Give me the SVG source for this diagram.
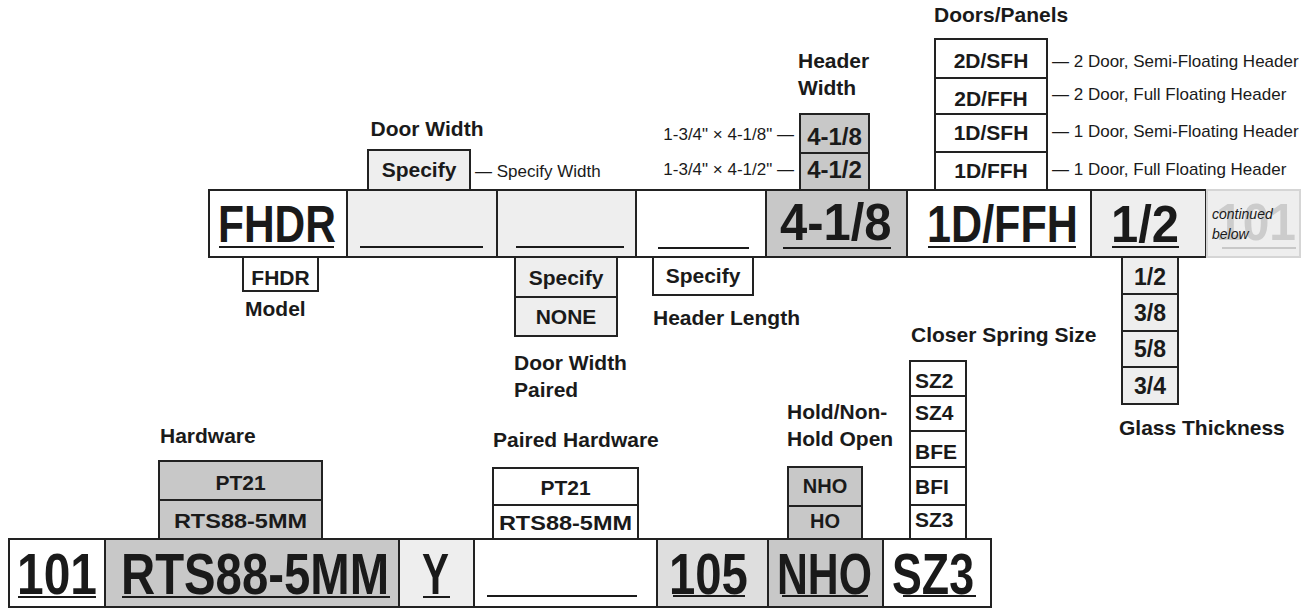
<svg xmlns="http://www.w3.org/2000/svg" width="1314" height="609" viewBox="0 0 1314 609">
<style>
text{font-family:"Liberation Sans",Arial,sans-serif;fill:#1a1a1a}
.lb{font-weight:bold;font-size:21px}
.bx{font-weight:bold;font-size:21px}
.c{text-anchor:middle}
.e{text-anchor:end}
.rg{font-size:17px}
.big{font-weight:bold;font-size:51px}
.bigb{font-weight:bold;font-size:57px}
.cell{stroke:#222;stroke-width:2}
.w{fill:#fff}
.l{fill:#eeeeee}
.m{fill:#dedede}
.d{fill:#c8c8c8}
.ul{stroke:#1a1a1a;stroke-width:2}
</style>
<rect width="1314" height="609" fill="#fff"/>
<g id="connectors"/>

<g id="door-width">
<text class="lb c" x="427" y="136">Door Width</text>
<rect class="cell l" x="368" y="150" width="102" height="40"/>
<text class="bx c" x="419" y="177">Specify</text>
<text class="rg" x="475" y="177">— Specify Width</text>
</g>
<g id="header-width">
<text class="lb" x="798" y="68">Header</text>
<text class="lb" x="798" y="95">Width</text>
<rect class="cell d" x="800" y="114" width="69" height="39"/>
<rect class="cell d" x="800" y="153" width="69" height="37"/>
<text class="bx c" x="834.5" y="145" style="font-size:24px">4-1/8</text>
<text class="bx c" x="834.5" y="178" style="font-size:24px">4-1/2</text>
<text class="rg e" x="794" y="140">1-3/4" ×  4-1/8" —</text>
<text class="rg e" x="794" y="175">1-3/4" × 4-1/2" —</text>
</g>
<g id="doors-panels">
<text class="lb" x="934" y="22">Doors/Panels</text>
<rect class="cell w" x="935" y="39" width="112" height="39"/>
<rect class="cell w" x="935" y="78" width="112" height="36"/>
<rect class="cell w" x="935" y="114" width="112" height="38"/>
<rect class="cell w" x="935" y="152" width="112" height="38"/>
<text class="bx c" x="991" y="68">2D/SFH</text>
<text class="bx c" x="991" y="106">2D/FFH</text>
<text class="bx c" x="991" y="140">1D/SFH</text>
<text class="bx c" x="991" y="178">1D/FFH</text>
<text class="rg" x="1052" y="67">— 2 Door, Semi-Floating Header</text>
<text class="rg" x="1052" y="100">— 2 Door, Full Floating Header</text>
<text class="rg" x="1052" y="137">— 1 Door, Semi-Floating Header</text>
<text class="rg" x="1052" y="175">— 1 Door, Full Floating Header</text>
</g>

<g id="model">
<rect class="cell w" x="243" y="257" width="75" height="34"/>
<text class="bx c" x="280.5" y="285">FHDR</text>
<text class="lb" x="245" y="316">Model</text>
</g>
<g id="door-width-paired">
<rect class="cell l" x="515" y="257" width="102" height="40"/>
<rect class="cell l" x="515" y="297" width="102" height="39"/>
<text class="bx c" x="566" y="285">Specify</text>
<text class="bx c" x="566" y="324">NONE</text>
<text class="lb" x="514" y="370">Door Width</text>
<text class="lb" x="514" y="397">Paired</text>
</g>
<g id="header-length">
<rect class="cell w" x="653" y="257" width="100" height="38"/>
<text class="bx c" x="703" y="283">Specify</text>
<text class="lb" x="653" y="325">Header Length</text>
</g>
<g id="glass-thickness">
<rect class="cell l" x="1122" y="257" width="56" height="37"/>
<rect class="cell l" x="1122" y="294" width="56" height="37"/>
<rect class="cell l" x="1122" y="331" width="56" height="36"/>
<rect class="cell l" x="1122" y="367" width="56" height="37"/>
<text class="bx c" x="1150" y="285" style="font-size:23px">1/2</text>
<text class="bx c" x="1150" y="321" style="font-size:23px">3/8</text>
<text class="bx c" x="1150" y="357" style="font-size:23px">5/8</text>
<text class="bx c" x="1150" y="394" style="font-size:23px">3/4</text>
<text class="lb" x="1119" y="435">Glass Thickness</text>
</g>

<g id="top-bar">
<rect class="cell w" x="209" y="190" width="138" height="67"/>
<rect class="cell l" x="347" y="190" width="150" height="67"/>
<rect class="cell l" x="497" y="190" width="139" height="67"/>
<rect class="cell w" x="636" y="190" width="130" height="67"/>
<rect class="cell d" x="766" y="190" width="141" height="67"/>
<rect class="cell w" x="907" y="190" width="184" height="67"/>
<rect class="cell l" x="1091" y="190" width="115" height="67"/>
<text class="big" transform="translate(218,242) scale(0.833,1)">FHDR</text>
<line class="ul" x1="219" y1="247" x2="334" y2="247"/>
<line class="ul" x1="360" y1="247" x2="483" y2="247"/>
<line class="ul" x1="516" y1="247" x2="624" y2="247"/>
<line class="ul" x1="658" y1="248" x2="749" y2="248"/>
<text class="big" transform="translate(780,240) scale(0.96,1)">4-1/8</text>
<line class="ul" x1="783" y1="248" x2="891" y2="248"/>
<text class="big" transform="translate(927,242) scale(0.846,1)">1D/FFH</text>
<line class="ul" x1="928" y1="247" x2="1076" y2="247"/>
<text class="big" transform="translate(1111,242) scale(0.96,1)">1/2</text>
<line class="ul" x1="1112" y1="247" x2="1179" y2="247"/>
</g>
<g id="continued">
<rect x="1207" y="190" width="93" height="67" fill="#eeeeee" stroke="#d5d5d5" stroke-width="2"/>
<text class="big" transform="translate(1216,240) scale(0.94,1)" style="fill:#cccccc">101</text>
<line x1="1222" y1="248" x2="1296" y2="248" stroke="#c8c8c8" stroke-width="2"/>
<text x="1212" y="219" style="font-size:14px;font-style:italic">continued</text>
<text x="1212" y="239" style="font-size:14px;font-style:italic">below</text>
</g>

<g id="closer-spring-size">
<text class="lb" x="911" y="342">Closer Spring Size</text>
<rect class="cell w" x="910" y="361" width="56" height="35"/>
<rect class="cell w" x="910" y="396" width="56" height="35"/>
<rect class="cell w" x="910" y="431" width="56" height="36"/>
<rect class="cell w" x="910" y="467" width="56" height="38"/>
<rect class="cell w" x="910" y="505" width="56" height="34"/>
<text class="bx" x="915" y="388">SZ2</text>
<text class="bx" x="915" y="420">SZ4</text>
<text class="bx" x="915" y="459">BFE</text>
<text class="bx" x="915" y="494">BFI</text>
<text class="bx" x="915" y="527">SZ3</text>
</g>
<g id="hardware">
<text class="lb" x="160" y="443">Hardware</text>
<rect class="cell d" x="159" y="461" width="163" height="39"/>
<rect class="cell d" x="159" y="500" width="163" height="39"/>
<text class="bx c" x="240.5" y="490">PT21</text>
<text class="bx c" transform="translate(240.5,528) scale(1.12,1)">RTS88-5MM</text>
</g>
<g id="paired-hardware">
<text class="lb" x="493" y="447">Paired Hardware</text>
<rect class="cell w" x="493" y="468" width="145" height="37"/>
<rect class="cell w" x="493" y="505" width="145" height="34"/>
<text class="bx c" x="565.5" y="495">PT21</text>
<text class="bx c" transform="translate(565.5,530) scale(1.12,1)">RTS88-5MM</text>
</g>
<g id="hold-open">
<text class="lb" x="787" y="419">Hold/Non-</text>
<text class="lb" x="787" y="446">Hold Open</text>
<rect class="cell d" x="788" y="467" width="74" height="39"/>
<rect class="cell d" x="788" y="506" width="74" height="33"/>
<text class="bx c" x="825" y="493" style="font-size:20px">NHO</text>
<text class="bx c" x="825" y="528" style="font-size:20px">HO</text>
</g>

<g id="bottom-bar">
<rect class="cell w" x="9" y="539" width="96" height="68"/>
<rect class="cell d" x="105" y="539" width="294" height="68"/>
<rect class="cell l" x="399" y="539" width="75" height="68"/>
<rect class="cell w" x="474" y="539" width="183" height="68"/>
<rect class="cell m" x="657" y="539" width="111" height="68"/>
<rect class="cell d" x="768" y="539" width="115" height="68"/>
<rect class="cell w" x="883" y="539" width="108" height="68"/>
<text class="bigb" transform="translate(17,594) scale(0.841,1)">101</text>
<line class="ul" x1="18" y1="597" x2="96" y2="597"/>
<text class="bigb" transform="translate(121,594) scale(0.83,1)">RTS88-5MM</text>
<line class="ul" x1="122" y1="597" x2="390" y2="597"/>
<text class="bigb" transform="translate(422,594) scale(0.71,1)">Y</text>
<line class="ul" x1="423" y1="597" x2="450" y2="597"/>
<line class="ul" x1="487" y1="596" x2="637" y2="596"/>
<text class="bigb" transform="translate(669,594) scale(0.83,1)">105</text>
<line class="ul" x1="673" y1="596" x2="745" y2="596"/>
<text class="bigb" transform="translate(777,594) scale(0.75,1)">NHO</text>
<line class="ul" x1="782" y1="596" x2="868" y2="596"/>
<text class="bigb" transform="translate(892,594) scale(0.785,1)">SZ3</text>
<line class="ul" x1="903" y1="596" x2="976" y2="596"/>
</g>
</svg>
